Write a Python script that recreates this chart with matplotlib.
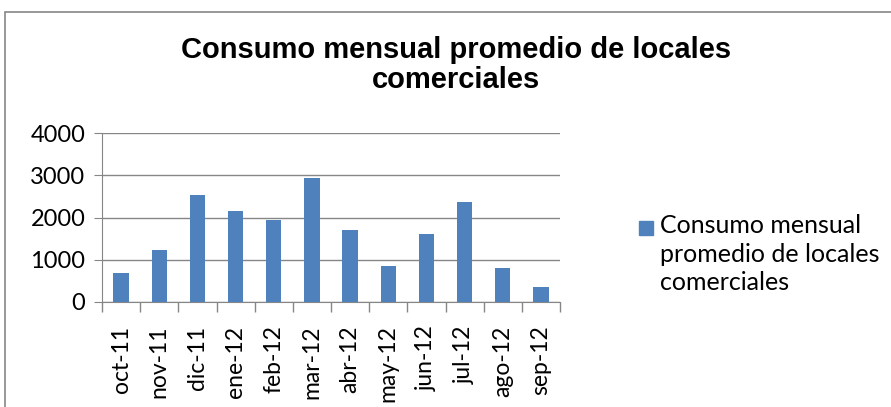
import matplotlib.pyplot as plt
from matplotlib.patches import Rectangle

meses = ["oct-11", "nov-11", "dic-11", "ene-12", "feb-12", "mar-12",
         "abr-12", "may-12", "jun-12", "jul-12", "ago-12", "sep-12"]
consumo = [693, 1236, 2543, 2165, 1937, 2929, 1701, 850, 1622, 2362, 803, 354]
y_ticks = [0, 1000, 2000, 3000, 4000]
serie = "Consumo mensual\npromedio de locales\ncomerciales"

azul = "#4F81BD"
gris = "#868686"

fig = plt.figure(figsize=(8.91, 4.07), dpi=100)
ax = fig.add_axes([0.1145, 0.258, 0.514, 0.415])

x = list(range(len(meses)))
ax.bar(x, consumo, width=0.4, color=azul, zorder=3)

ax.set_xlim(-0.5, len(meses) - 0.5)
ax.set_ylim(0, 4000)
ax.set_yticks(y_ticks)
ax.set_yticklabels([str(v) for v in y_ticks], family="Lato", fontsize=17)
ax.set_xticks(x)
ax.set_xticklabels(meses, rotation=90, family="Lato", fontsize=16.5)
ax.tick_params(axis="x", length=0, pad=17)
ax.tick_params(axis="y", length=6, color=gris, pad=6)
# marcas entre categorias
ax.set_xticks([i - 0.5 for i in range(len(meses) + 1)], minor=True)
ax.tick_params(axis="x", which="minor", length=7, color=gris, width=1)

ax.grid(axis="y", color=gris, linewidth=1, zorder=0)
for s in ["top", "right"]:
    ax.spines[s].set_visible(False)
for s in ["left", "bottom"]:
    ax.spines[s].set_color(gris)

fig.text(0.512, 0.84, "Consumo mensual promedio de locales\ncomerciales",
         ha="center", va="center", family="Liberation Sans", weight="bold",
         fontsize=21, linespacing=1.1)

# leyenda
fig.patches.append(Rectangle((639 / 891, 1 - 235 / 407), 14 / 891, 14 / 407,
                             transform=fig.transFigure, color=azul))
fig.text(660 / 891, 1 - 214 / 407, serie, ha="left", va="top",
         family="Lato", fontsize=18, linespacing=1.3)

fig.patches.append(Rectangle((5 / 891, -0.1), 1.2, 1.1 - 12 / 407,
                             transform=fig.transFigure, fill=False,
                             edgecolor=gris, linewidth=1.2))

fig.savefig("out.png", dpi=100)
